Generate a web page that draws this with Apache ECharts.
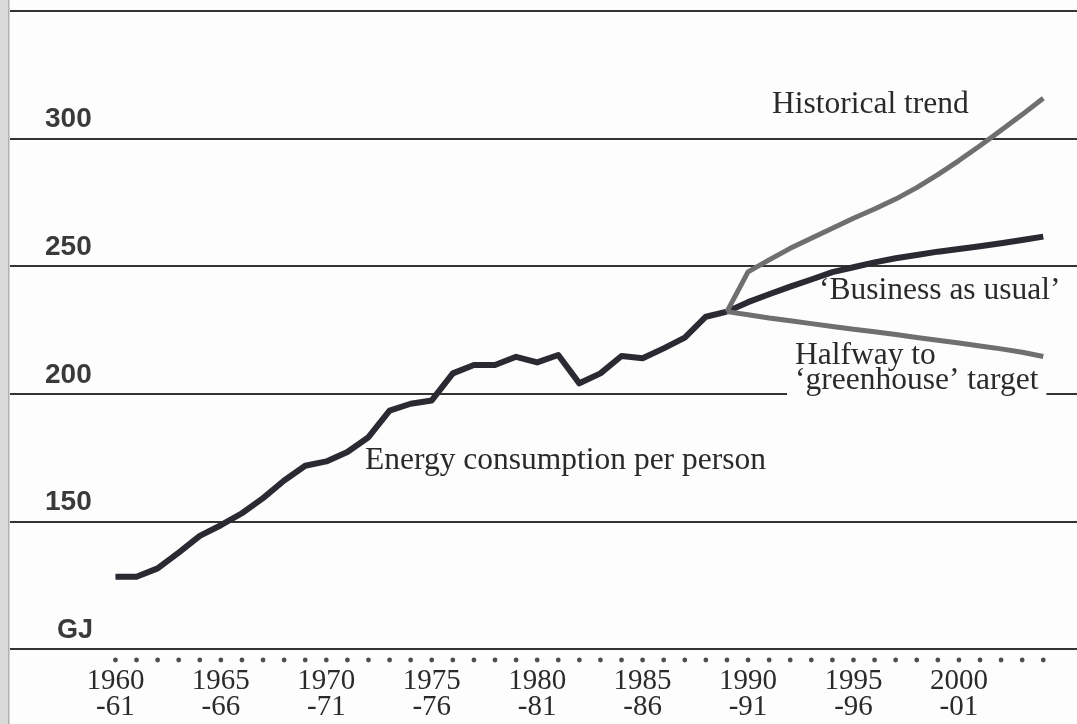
<!DOCTYPE html>
<html>
<head>
<meta charset="utf-8">
<title>Energy consumption per person</title>
<script src="https://cdn.jsdelivr.net/npm/echarts@6/dist/echarts.min.js"></script>
<style>
  html, body { margin: 0; padding: 0; background: #fdfdfd; }
  #chart { width: 1077px; height: 724px; }
</style>
</head>
<body>
<div id="chart"></div>
<script>
// energy use per person, GJ
const energyYears = [1960, 1961, 1962, 1963, 1964, 1965, 1966, 1967, 1968, 1969,
  1970, 1971, 1972, 1973, 1974, 1975, 1976, 1977, 1978, 1979,
  1980, 1981, 1982, 1983, 1984, 1985, 1986, 1987, 1988, 1989]
const energyValues = [128.3, 128.3, 131.6, 137.8, 144.3, 148.5, 153.2, 159.1, 166.0, 171.8,
  173.5, 177.2, 183.0, 193.4, 196.1, 197.4, 208.0, 211.3, 211.3, 214.5,
  212.3, 215.2, 204.1, 208.0, 214.8, 213.9, 217.8, 222.0, 230.2, 232.2]

// projections branch off the last actual point
const scenarioYears = [1989, 1990, 1991, 1992, 1993, 1994, 1995, 1996,
  1997, 1998, 1999, 2000, 2001, 2002, 2003, 2004]
const historicalTrend = [232.2, 247.8, 252.5, 257.0, 261.0, 264.9, 268.8, 272.4,
  276.3, 280.8, 285.9, 291.4, 297.2, 303.3, 309.4, 315.8]
const businessAsUsual = [232.2, 235.9, 239.0, 242.0, 244.8, 247.7, 249.6, 251.5,
  253.1, 254.4, 255.7, 256.7, 257.8, 259.0, 260.3, 261.6]
const halfwayTarget = [232.2, 231.0, 229.7, 228.6, 227.5, 226.4, 225.3, 224.3,
  223.2, 222.1, 221.0, 219.9, 218.7, 217.6, 216.3, 214.6]

const yearLabels = [1960, 1965, 1970, 1975, 1980, 1985, 1990, 1995, 2000]
const dotYears = [1960, 1961, 1962, 1963, 1964, 1965, 1966, 1967, 1968, 1969,
  1970, 1971, 1972, 1973, 1974, 1975, 1976, 1977, 1978, 1979,
  1980, 1981, 1982, 1983, 1984, 1985, 1986, 1987, 1988, 1989,
  1990, 1991, 1992, 1993, 1994, 1995, 1996, 1997, 1998, 1999,
  2000, 2001, 2002, 2003, 2004]

const pairs = (xs, ys) => xs.map((x, i) => [x, ys[i]])

const serif = 'Liberation Serif'
const noteFont = '31.5px "Liberation Serif"'
const ink = '#2b2a33'
const grey = '#6f6f6f'

const chart = echarts.init(document.getElementById('chart'))

chart.setOption({
  animation: false,
  backgroundColor: '#fdfdfd',
  grid: [
    { left: 10, right: 0, top: 11, bottom: 75 },
    { left: 10, right: 0, top: 655, height: 10 }   // row of year dots
  ],
  xAxis: [
    {
      type: 'value', min: 1955, max: 2005.6,
      axisLine: { show: false },
      axisTick: { show: false },
      splitLine: { show: false },
      axisLabel: {
        customValues: yearLabels,
        formatter: v => v + '\n-' + String(v + 1).slice(2),
        fontFamily: serif, fontSize: 29, lineHeight: 26,
        color: '#2a2a2a', margin: 19
      }
    },
    { type: 'value', gridIndex: 1, min: 1955, max: 2005.6, show: false }
  ],
  yAxis: [
    {
      type: 'value', min: 100, max: 350, interval: 50,
      axisLine: { show: false },
      axisTick: { show: false },
      splitLine: { lineStyle: { color: '#333', width: 1.8 } },
      axisLabel: {
        inside: true, margin: 35,
        verticalAlign: 'bottom',
        padding: [0, 0, 5, 0],
        fontFamily: 'Liberation Sans', fontWeight: 'bold', fontSize: 28,
        color: '#3a3a3a',
        formatter: v => v === 100 ? '{gj|GJ}' : (v === 350 ? '' : String(v)),
        rich: {
          gj: {
            fontFamily: 'Liberation Sans', fontWeight: 'bold', fontSize: 27,
            color: '#3a3a3a', padding: [0, 0, 0, 12]
          }
        }
      }
    },
    { type: 'value', gridIndex: 1, min: -1, max: 1, show: false }
  ],
  series: [
    {
      name: 'Energy consumption per person', type: 'line',
      data: pairs(energyYears, energyValues),
      showSymbol: false, silent: true,
      lineStyle: { color: ink, width: 6, join: 'round' }
    },
    {
      name: "'Business as usual'", type: 'line',
      data: pairs(scenarioYears, businessAsUsual),
      showSymbol: false, silent: true,
      lineStyle: { color: ink, width: 6, join: 'round' }
    },
    {
      name: 'Historical trend', type: 'line',
      data: pairs(scenarioYears, historicalTrend),
      showSymbol: false, silent: true,
      lineStyle: { color: grey, width: 5, join: 'round' }
    },
    {
      name: "Halfway to 'greenhouse' target", type: 'line',
      data: pairs(scenarioYears, halfwayTarget),
      showSymbol: false, silent: true,
      lineStyle: { color: grey, width: 5, join: 'round' }
    },
    {
      type: 'scatter', xAxisIndex: 1, yAxisIndex: 1,
      data: dotYears.map(y => [y, 0]),
      symbolSize: 4.8, silent: true,
      itemStyle: { color: '#222' }
    }
  ],
  graphic: [
    // grey page edge of the scan
    { type: 'rect', left: 0, top: 0, shape: { width: 9, height: 724 }, style: { fill: '#dadada' } },
    { type: 'rect', left: 8, top: 0, shape: { width: 1.5, height: 724 }, style: { fill: '#b0b0b0' } },
    {
      type: 'text', left: 772, top: 89,
      style: { text: 'Historical trend', font: noteFont, fill: '#2a2a2a' }
    },
    {
      type: 'text', left: 819, top: 275,
      style: { text: '\u2018Business as usual\u2019', font: noteFont, fill: '#2a2a2a' }
    },
    {
      type: 'text', left: 787, top: 365, z: 100,
      style: {
        text: '\u2018greenhouse\u2019 target', font: noteFont, fill: '#2a2a2a',
        backgroundColor: '#fdfdfd', padding: [0, 8, 5, 8]
      }
    },
    {
      type: 'text', left: 795, top: 340, z: 101,
      style: { text: 'Halfway to', font: noteFont, fill: '#2a2a2a' }
    },
    {
      type: 'text', left: 365, top: 445,
      style: { text: 'Energy consumption per person', font: noteFont, fill: '#2a2a2a' }
    }
  ]
})
</script>
</body>
</html>
